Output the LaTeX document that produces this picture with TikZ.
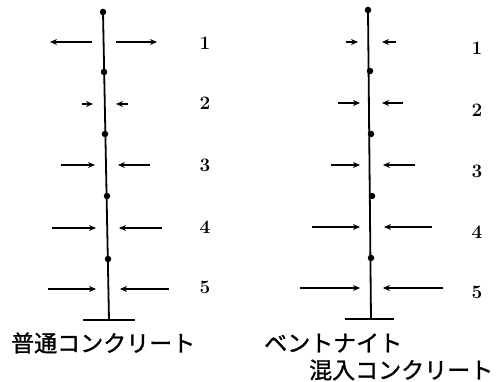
\documentclass[tikz,border=0pt]{standalone}
\usepackage{fontspec}
\newfontfamily\jpfont[FakeBold=1.2]{Noto Sans CJK JP}
\usetikzlibrary{arrows.meta}

\begin{document}
\begin{tikzpicture}[x=1pt,y=-1pt,font=\small,
  pole/.style={line width=1.8pt},
  push/.style={line width=1.3pt,-{Stealth[length=7pt,width=6pt]}},
  joint/.style={circle,fill,inner sep=0pt,minimum size=6.5pt},
  num/.style={font=\fontsize{19}{22}\selectfont\bfseries},
  caption/.style={font=\fontsize{23}{27}\jpfont,inner sep=0pt,anchor=west}]
\useasboundingbox (0,0) rectangle (499,382);
% left column: plain concrete
\foreach \n/\x/\y in {1/103/12,2/104/72,3/105/134,4/107/196,5/108/259}
  \node[joint] (l\n) at (\x,\y) {};
\coordinate (lfoot) at (109,320);
\draw[pole] (l1.center) -- (lfoot);
\draw[pole] (83,320) -- (135,320);
\foreach \y/\a/\b/\c/\d in {42/92/50/116/157, 104/82/93/128/116,
    165/61/95/150/118, 228/52/96/162/119, 289/48/96/169/120} {
  \draw[push] (\a,\y) -- (\b,\y);
  \draw[push] (\c,\y) -- (\d,\y);
}
\foreach \n/\y in {1/43,2/103,3/165,4/227,5/287}
  \node[num] (ln\n) at (205,\y) {\n};
\node[caption] (lcap) at (11,343) {普通コンクリート};
% right column: bentonite-mixed concrete
\foreach \n/\x/\y in {1/368/10,2/370/71,3/371/134,4/372/196,5/371/258}
  \node[joint] (r\n) at (\x,\y) {};
\coordinate (rfoot) at (371,319);
\draw[pole] (r1.center) -- (rfoot);
\draw[pole] (345,319) -- (394,319);
\foreach \y/\a/\b/\c/\d in {42/346/358/396/382, 103/338/360/403/382,
    165/331/360/415/383, 227/312/360/432/384, 288/300/360/443/383} {
  \draw[push] (\a,\y) -- (\b,\y);
  \draw[push] (\c,\y) -- (\d,\y);
}
\foreach \n/\y in {1/48,2/110,3/171,4/232,5/292}
  \node[num] (rn\n) at (477,\y) {\n};
\node[caption] (rcap1) at (264,343) {ベントナイト};
\node[caption] (rcap2) at (309,370) {混入コンクリート};
\end{tikzpicture}
\end{document}
